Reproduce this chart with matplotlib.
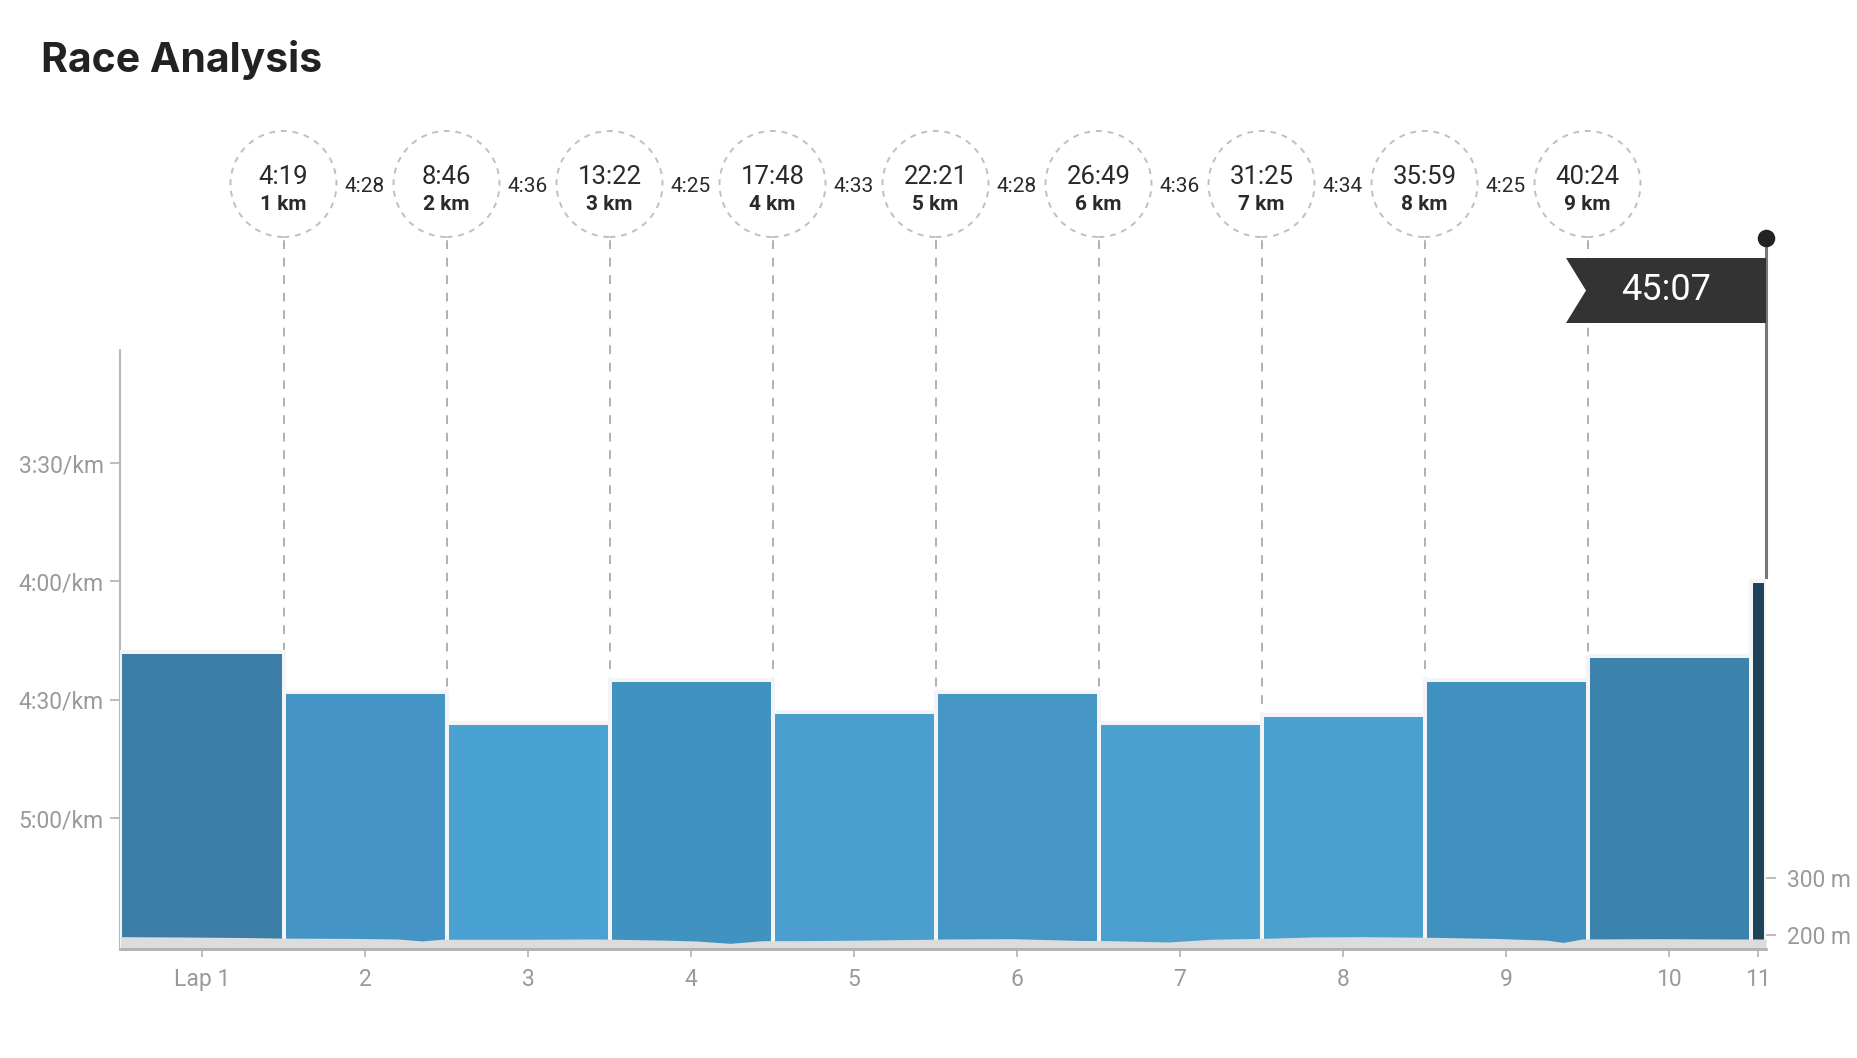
import numpy as np
import matplotlib
matplotlib.use("Agg")
import matplotlib.pyplot as plt
from matplotlib.patches import Circle, Polygon
from matplotlib.transforms import ScaledTranslation

plt.rcParams['font.family'] = ['Roboto', 'DejaVu Sans']

## data
lap_labels = ['Lap 1', '2', '3', '4', '5', '6', '7', '8', '9', '10', '11']
lap_dist = [1, 1, 1, 1, 1, 1, 1, 1, 1, 1, 0.095]          # km
lap_pace = [258, 268, 276, 265, 273, 268, 276, 274, 265, 259, 240]  # s/km
lap_colors = ['#3a7ea8', '#4495c5', '#4aa2d2', '#4092c0', '#4a9fce', '#4596c4',
              '#4aa1d0', '#4aa0cf', '#4091c0', '#3b82ad', '#1d4259']

split_km = [1, 2, 3, 4, 5, 6, 7, 8, 9]
split_time = ['4:19', '8:46', '13:22', '17:48', '22:21', '26:49', '31:25', '35:59', '40:24']
km_split = ['4:28', '4:36', '4:25', '4:33', '4:28', '4:36', '4:34', '4:25']
finish_time = '45:07'

pace_ticks = [210, 240, 270, 300]
pace_ticklabels = ['3:30/km', '4:00/km', '4:30/km', '5:00/km']

elev_dist = [0, 0.37, 0.78, 0.99, 1.40, 1.70, 1.85, 1.97, 2.22, 2.52, 2.92, 3.33, 3.53,
             3.74, 3.94, 4.15, 4.56, 4.97, 5.06, 5.47, 5.88, 6.08, 6.43, 6.69, 7.00,
             7.31, 7.61, 8.01, 8.42, 8.75, 8.85, 8.97, 9.44, 9.85, 10.095]
elev = [197, 196.5, 195.5, 194.5, 194, 193, 189.5, 192.5, 192.5, 192.5, 193, 191, 189.5,
        185.4, 190, 190, 191, 192.5, 193, 193.5, 190.5, 190, 187.7, 192.5, 194,
        196.5, 197, 196, 194, 191, 187, 193, 193.5, 193, 193]
elev_ticks = [200, 300]
elev_ticklabels = ['200 m', '300 m']

## layout
W, H = 1858, 1058
fig = plt.figure(figsize=(W / 100, H / 100), dpi=100)
ax_l, ax_r, ax_b, ax_t = 120.5, 1766, 949, 110
ax = fig.add_axes([ax_l / W, 1 - ax_b / H, (ax_r - ax_l) / W, (ax_b - ax_t) / H])

pace_lo, pace_hi = 333.2, 120.5
starts = np.concatenate([[0], np.cumsum(lap_dist)[:-1]])
total = float(np.sum(lap_dist))
mids = starts + np.array(lap_dist) / 2

ax.set_xlim(0, total)
ax.set_ylim(pace_lo, pace_hi)

ax.bar(starts, np.array(lap_pace) - (pace_lo + 10), bottom=pace_lo + 10, width=lap_dist,
       align='edge', color=lap_colors, edgecolor='#f4f4f4', linewidth=2.9, zorder=3)

# elevation on a second axis
ax2 = ax.twinx()
ax2.set_ylim(175.4, 1647)
ax2.fill_between(elev_dist, elev, 170, color='#dcdcdc', lw=0, zorder=2)
ax2.set_xlim(0, total)

# axes styling
for s in ['top', 'right', 'bottom']:
    ax.spines[s].set_visible(False)
ax.spines['left'].set_color('#b8b8b8')
ax.spines['left'].set_linewidth(1.5)
ax.spines['left'].set_bounds(181.35, pace_lo)
for s in ['top', 'right', 'left']:
    ax2.spines[s].set_visible(False)
ax2.spines['bottom'].set_color('#b0b0b0')
ax2.spines['bottom'].set_linewidth(2)

ax.set_yticks(pace_ticks)
ax.set_yticklabels(pace_ticklabels)
ax.tick_params(axis='y', length=7, width=1.3, color='#b8b8b8', labelcolor='#9a9a9a',
               labelsize=16.5, pad=5)
ax.set_xticks(mids)
ax.set_xticklabels(lap_labels)
ax.tick_params(axis='x', length=6, width=1.3, color='#b8b8b8', labelcolor='#9a9a9a',
               labelsize=16.5, pad=8)
ax2.set_yticks(elev_ticks)
ax2.set_yticklabels(elev_ticklabels)
ax2.tick_params(axis='y', length=7, width=1.3, color='#b8b8b8', labelcolor='#9a9a9a',
                labelsize=16.5, pad=8)

# km split markers
xt = ax.get_xaxis_transform()
def yf(p):
    return (ax_b - p) / (ax_b - ax_t)

for k, t in zip(split_km, split_time):
    ax.plot([k, k], [0, yf(237)], transform=xt, color='#b0b0b0', lw=1.4,
            dashes=(4.5, 4.5), zorder=1, clip_on=False)
    c = Circle((0, 0), 0.53, transform=fig.dpi_scale_trans + ScaledTranslation(k, yf(184), xt),
               fill=False, edgecolor='#c0c0c0', lw=1.4, linestyle=(0, (3, 3)), clip_on=False)
    ax.add_patch(c)
    ax.text(k, yf(177), t, transform=xt, ha='center', va='center', fontsize=18.5,
            color='#2a2a2a', clip_on=False)
    ax.text(k, yf(205), '%d km' % k, transform=xt, ha='center', va='center', fontsize=15,
            fontweight='bold', color='#2a2a2a', clip_on=False)

for k, s in zip(split_km[:-1], km_split):
    ax.text(k + 0.5, yf(187), s, transform=xt, ha='center', va='center', fontsize=15,
            color='#2a2a2a', clip_on=False)

# finish flag
ax.plot([total, total], [lap_pace[-1] - 1, 153], color='#777777', lw=2.2, zorder=4, clip_on=False)
ax.scatter([total], [153], s=135, color='#222222', zorder=6, clip_on=False)
flag = Polygon([(0, 0.325), (-2.0, 0.325), (-1.8, 0), (-2.0, -0.325), (0, -0.325)],
               closed=True, facecolor='#333333', edgecolor='none',
               transform=fig.dpi_scale_trans + ScaledTranslation(total, yf(290.5), xt),
               clip_on=False, zorder=5)
ax.add_patch(flag)
ax.annotate(finish_time, xy=(total, yf(290)), xycoords=xt, xytext=(-72, 0),
            textcoords='offset points', ha='center', va='center', fontsize=26,
            color='white', zorder=7, annotation_clip=False)

fig.text(40.7 / W, 1 - 71.7 / H, 'Race Analysis', fontsize=29.5, fontweight='bold',
         color='#222222', va='baseline', ha='left', family=['Inter', 'DejaVu Sans'])

fig.savefig('out.png', dpi=100)
